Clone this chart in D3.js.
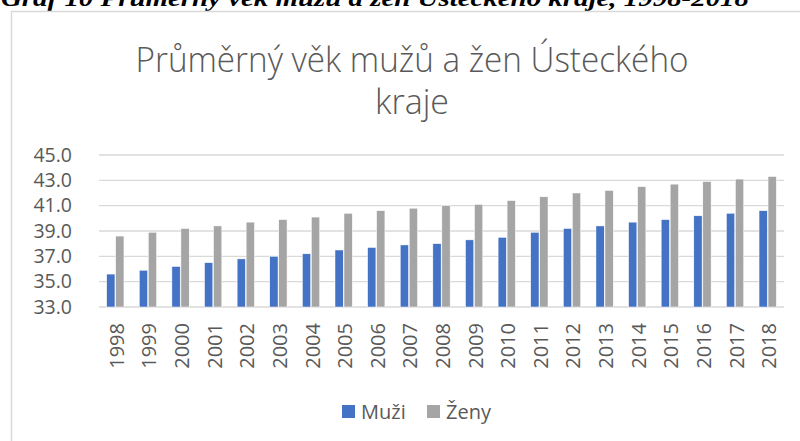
<!DOCTYPE html>
<html><head><meta charset="utf-8">
<script src="https://cdn.jsdelivr.net/npm/d3@7"></script>
<style>html,body{margin:0;padding:0;background:#fff;overflow:hidden}</style>
</head><body>
<script>
const years = ["1998","1999","2000","2001","2002","2003","2004","2005","2006","2007","2008","2009","2010","2011","2012","2013","2014","2015","2016","2017","2018"];
const muzi = [35.6,35.9,36.2,36.5,36.8,37.0,37.2,37.5,37.7,37.9,38.0,38.3,38.5,38.9,39.2,39.4,39.7,39.9,40.2,40.4,40.6];
const zeny = [38.6,38.9,39.2,39.4,39.7,39.9,40.1,40.4,40.6,40.8,41.0,41.1,41.4,41.7,42.0,42.2,42.5,42.7,42.9,43.1,43.3];
const yTicks = [33,35,37,39,41,43,45];
const seriesNames = ["Muži","Ženy"];
const colors = ["#4472C4","#A5A5A5"];
const caption = "Graf 10 Průměrný věk mužů a žen Ústeckého kraje, 1998-2018";
const titleLines = ["Průměrný věk mužů a žen Ústeckého","kraje"];

const W=800,H=441;
const svg=d3.select("body").append("svg").attr("width",W).attr("height",H);
const font="'Open Sans', 'Liberation Sans', sans-serif";
const txt="#595959";

// caption (clipped at top)
svg.append("text").attr("x",1).attr("y",6)
  .attr("font-family","'Liberation Serif', serif").attr("font-weight","bold").attr("font-style","italic")
  .attr("font-size",23).attr("fill","#000")
  .attr("textLength",748).attr("lengthAdjust","spacingAndGlyphs").text(caption);

// frame
svg.append("path").attr("d","M11.5,"+(H+5)+"V11.5H"+(W+5)).attr("fill","none").attr("stroke","#D9D9D9").attr("stroke-width",1.5);

// title
const tt=svg.append("g").attr("font-family",font).attr("font-weight",300).attr("fill",txt).attr("font-size",34).attr("text-anchor","middle");
tt.append("text").attr("x",412).attr("y",72).attr("textLength",553).attr("lengthAdjust","spacingAndGlyphs").text(titleLines[0]);
tt.append("text").attr("x",412).attr("y",114).text(titleLines[1]);

const x=d3.scaleBand().domain(years).range([99,784]).paddingInner(0.47).paddingOuter(0.235);
const x1=d3.scaleBand().domain([0,1]).range([0,x.bandwidth()]).paddingInner(0.08);
const y=d3.scaleLinear().domain([33,45]).range([307,155]);

// grid
svg.append("g").selectAll("line").data(yTicks).join("line")
  .attr("x1",99).attr("x2",784).attr("y1",d=>y(d)).attr("y2",d=>y(d))
  .attr("stroke","#D9D9D9").attr("stroke-width",1.3);

// y axis
const ya=svg.append("g").attr("transform","translate(72,0)")
  .call(d3.axisLeft(y).tickValues(yTicks).tickFormat(d3.format(".1f")).tickSize(0).tickPadding(0));
ya.select(".domain").remove();
ya.selectAll("text").attr("font-family",font).attr("font-size",19.5).attr("fill",txt);

// bars
const g=svg.append("g");
[muzi,zeny].forEach((vals,si)=>{
  g.append("g").selectAll("rect").data(vals).join("rect")
    .attr("x",(d,i)=>x(years[i])+x1(si)).attr("width",x1.bandwidth())
    .attr("y",d=>y(d)).attr("height",d=>y(33)-y(d))
    .attr("fill",colors[si]).attr("stroke","#fff").attr("stroke-width",0.5);
});

// x axis
const xa=svg.append("g").attr("transform","translate(0,307)")
  .call(d3.axisBottom(x).tickSize(0).tickPadding(0));
xa.select(".domain").remove();
xa.selectAll("text").attr("font-family",font).attr("font-size",20).attr("fill",txt)
  .attr("text-anchor","end").attr("dy",null).attr("dominant-baseline","central")
  .attr("transform","translate(1,16) rotate(-90)");

// legend
const lg=svg.append("g").attr("font-family",font).attr("font-size",20).attr("fill",txt);
const lx=[342,427];
seriesNames.forEach((n,i)=>{
  lg.append("rect").attr("x",lx[i]).attr("y",405).attr("width",13).attr("height",13).attr("fill",colors[i]);
  lg.append("text").attr("x",lx[i]+19).attr("y",419).text(n);
});
</script>
</body></html>
